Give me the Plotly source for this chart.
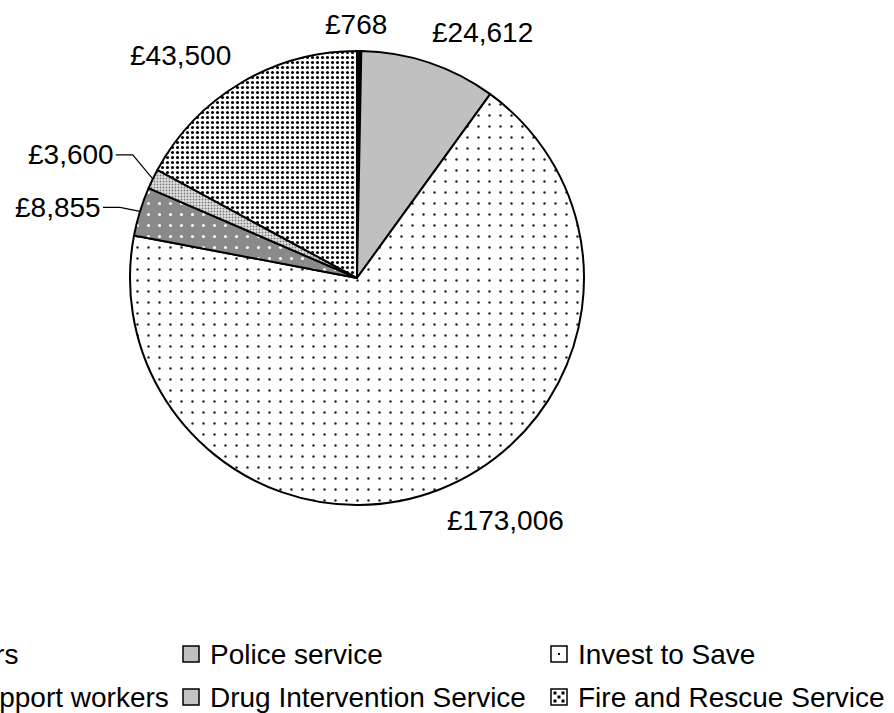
import math
import plotly.graph_objects as go

# ---------------- data ----------------
categories = ["Youth workers", "Police service", "Invest to Save",
              "Parenting support workers", "Drug Intervention Service",
              "Fire and Rescue Service"]
values = [768, 24612, 173006, 8855, 3600, 43500]

# ---------------- styles ----------------
W, H = 894, 713
FONT = "Arial, Liberation Sans, sans-serif"
FS = 28
CX, CY, R = 357, 278, 227          # pie centre / radius in px

slice_colors = ["#000000", "#c0c0c0", "#ffffff", "#8a8a8a", "#d6d6d6", "#ffffff"]
pat_shape = ["", "", ".", ".", ".", "."]
pat_fg = ["#000000", "#000000", "#222222", "#ffffff", "#7a7a7a", "#000000"]
pat_bg = ["#000000", "#c0c0c0", "#ffffff", "#8a8a8a", "#e2e2e2", "#ffffff"]
pat_size = [8, 8, 11, 11, 3, 5]
pat_solid = [0.3, 0.3, 0.04, 0.06, 0.3, 0.3]

# label offsets (px) from the slice's mid-angle edge point
label_off = [(-3, -27), (53, -30), (65, 31), (-82, -4), (-82, -24), (-60, -27)]
leader = [False, False, False, True, True, False]

# legend layout (px)
leg_cols_swatch = [-185, 183, 551]
leg_rows_y = [654, 697]
SW = 16


def px(x):
    return x / W


def py(y):
    return 1 - y / H


fig = go.Figure(go.Pie(
    labels=categories, values=values, sort=False, direction="clockwise",
    rotation=0, textinfo="none", hoverinfo="label+value", showlegend=False,
    marker=dict(colors=slice_colors, line=dict(color="#000000", width=2),
                pattern=dict(shape=pat_shape, fgcolor=pat_fg, bgcolor=pat_bg,
                             size=pat_size, solidity=pat_solid, fillmode="replace")),
    domain=dict(x=[px(CX - R), px(CX + R)], y=[py(CY + R), py(CY - R)]),
))

annotations = []
shapes = []
total = sum(values)
cum = 0.0
for i, v in enumerate(values):
    mid = (cum + v / 2) / total * 2 * math.pi
    cum += v
    ex = CX + R * math.sin(mid)
    ey = CY - R * math.cos(mid)
    lx, ly = ex + label_off[i][0], ey + label_off[i][1]
    annotations.append(dict(x=px(lx), y=py(ly), xref="paper", yref="paper",
                            text=f"£{v:,}", showarrow=False, xanchor="center",
                            yanchor="middle", borderpad=0, borderwidth=0,
                            font=dict(family=FONT, size=FS, color="#000000")))
    if leader[i]:
        x0, x1 = ex - 37, ex - 20
        shapes.append(dict(type="path", xref="paper", yref="paper",
                           path=f"M {px(x0)},{py(ly)} L {px(x1)},{py(ly)} L {px(ex)},{py(ey)}",
                           line=dict(color="#000000", width=1.2)))

# ---------------- legend (row-major, 3 columns) ----------------
legend_fill = ["#000000", "#c0c0c0", "#ffffff", "#8a8a8a", "#c4c4c4", "#ffffff"]
for i, name in enumerate(categories):
    r, c = divmod(i, 3)
    sx = leg_cols_swatch[c]
    sy = leg_rows_y[r]
    shapes.append(dict(type="rect", xref="paper", yref="paper",
                       x0=px(sx), x1=px(sx + SW), y0=py(sy - SW / 2), y1=py(sy + SW / 2),
                       fillcolor=legend_fill[i], line=dict(color="#000000", width=1.5)))
    if name == "Invest to Save":
        shapes.append(dict(type="rect", xref="paper", yref="paper",
                           x0=px(sx + 7), x1=px(sx + 9), y0=py(sy - 1), y1=py(sy + 1),
                           fillcolor="#000000", line=dict(width=0)))
    if name == "Fire and Rescue Service":
        for ddx, ddy in [(4, -4), (12, -4), (8, 0), (4, 4), (12, 4)]:
            shapes.append(dict(type="rect", xref="paper", yref="paper",
                               x0=px(sx + ddx - 1.5), x1=px(sx + ddx + 1.5),
                               y0=py(sy + ddy - 1.5), y1=py(sy + ddy + 1.5),
                               fillcolor="#000000", line=dict(width=0)))
    annotations.append(dict(x=px(sx + SW + 11), y=py(sy), xref="paper", yref="paper",
                            text=name, showarrow=False, xanchor="left", yanchor="middle",
                            borderpad=0, borderwidth=0,
                            font=dict(family=FONT, size=FS, color="#000000")))

fig.update_layout(
    width=W, height=H, margin=dict(l=0, r=0, t=0, b=0),
    paper_bgcolor="#ffffff", plot_bgcolor="#ffffff",
    annotations=annotations, shapes=shapes,
)

fig.write_html("out.html")
